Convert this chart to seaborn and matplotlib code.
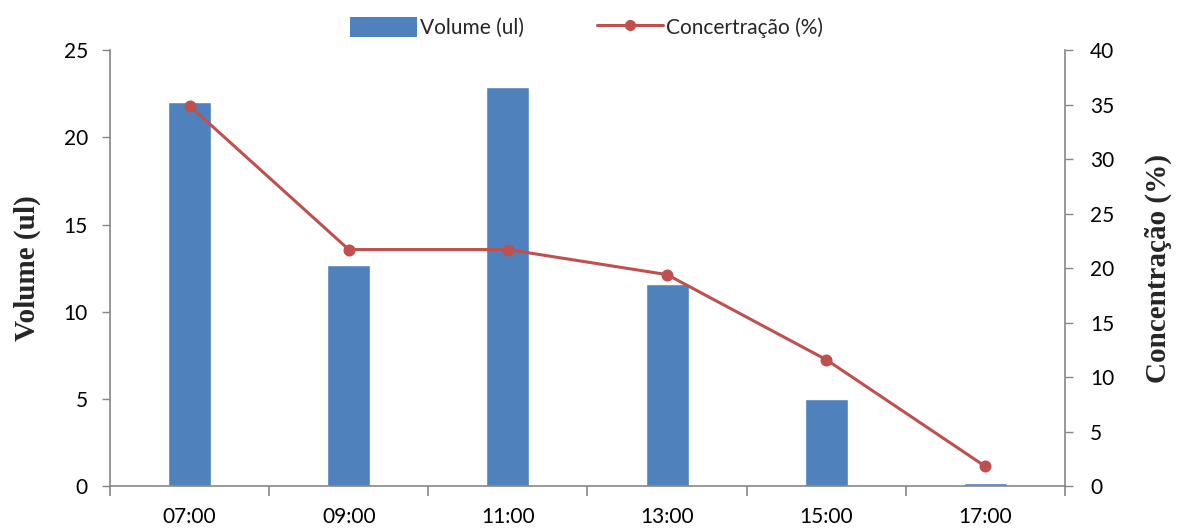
import matplotlib
matplotlib.use("Agg")
import matplotlib.pyplot as plt
import seaborn as sns
import numpy as np
import pandas as pd
from matplotlib.patches import Patch
from matplotlib.lines import Line2D

hours = ["07:00", "09:00", "11:00", "13:00", "15:00", "17:00"]
volume = [22.0, 12.7, 22.9, 11.6, 5.0, 0.2]
concentration = [34.9, 21.7, 21.7, 19.4, 11.6, 1.8]

bar_color = "#4F81BD"
line_color = "#C0504D"
axis_gray = "#868686"

sns.set_theme(style="white")
plt.rcParams["font.family"] = ["Lato", "DejaVu Sans"]

df = pd.DataFrame({"hora": hours, "volume": volume, "conc": concentration})

fig = plt.figure(figsize=(11.78, 5.28), dpi=100)
ax = fig.add_axes([0.0934, 0.0795, 0.904 - 0.0934, 0.905 - 0.0795])

sns.barplot(data=df, x="hora", y="volume", color=bar_color, saturation=1,
            width=0.27, ax=ax, order=hours)
ax2 = ax.twinx()
sns.pointplot(data=df, x="hora", y="conc", color=line_color, markers="o",
              markersize=7, linewidth=2.2, ax=ax2, order=hours)

ax.set_xlim(-0.5, 5.5)
ax.set_ylim(0, 25)
ax2.set_ylim(0, 40)
ax.set_yticks(range(0, 26, 5))
ax2.set_yticks(range(0, 41, 5))

ax.set_xticks(range(len(hours)))
ax.set_xticklabels(hours)
ax.set_xticks(np.arange(-0.5, 6.0, 1.0), minor=True)
ax.tick_params(axis="x", which="major", length=0, pad=15, labelsize=15, colors="black")
ax.tick_params(axis="x", which="minor", length=7, width=1.2, color=axis_gray, direction="out", bottom=True)
ax.tick_params(axis="y", length=6, width=1, color=axis_gray, direction="out", left=True, pad=10, labelsize=15, labelcolor="black")
ax2.tick_params(axis="y", length=6, width=1, color=axis_gray, direction="out", right=True, pad=12, labelsize=15, labelcolor="black")
ax2.tick_params(axis="x", length=0)

for a in (ax, ax2):
    a.spines["top"].set_visible(False)
    for s in ("left", "right", "bottom"):
        a.spines[s].set_color(axis_gray)
        a.spines[s].set_linewidth(1.2)
    a.grid(False)
ax.spines["right"].set_visible(False)
ax2.spines["left"].set_visible(False)
ax2.spines["bottom"].set_visible(False)

ax.set_xlabel("")
ax.set_ylabel("Volume (ul)", fontsize=21, fontweight="bold",
              family="Liberation Serif", labelpad=16)
ax2.set_ylabel("Concentração (%)", fontsize=21, fontweight="bold",
               family="Liberation Serif", labelpad=22, rotation=90)

handles = [
    Patch(facecolor=bar_color, edgecolor="none"),
    Line2D([0], [0], color=line_color, lw=2.2, marker="o", markersize=7),
]
fig.legend(handles, ["Volume (ul)", "Concertração (%)"], loc="center",
           bbox_to_anchor=(0.498, 0.948), ncol=2, frameon=False, fontsize=15,
           handlelength=3.2, handleheight=1.1, handletextpad=0.15,
           columnspacing=3.5)

fig.savefig("out.png", dpi=100)
